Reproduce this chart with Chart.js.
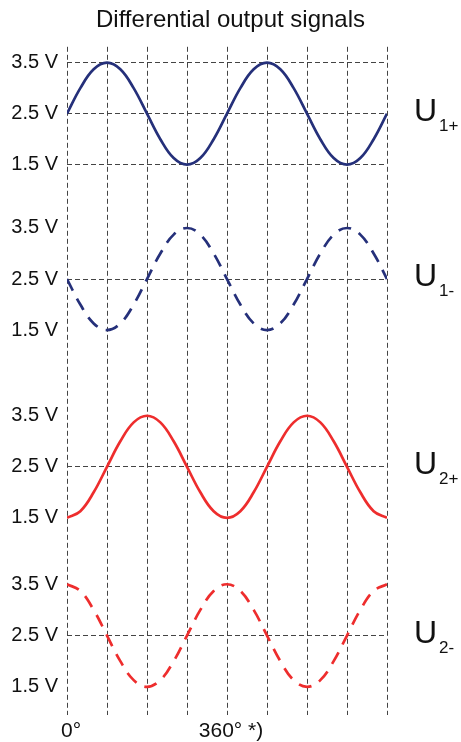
<!DOCTYPE html>
<html>
<head>
<meta charset="utf-8">
<script src="https://cdn.jsdelivr.net/npm/chart.js@4"></script>
<style>
  html, body { margin: 0; padding: 0; background: #fff; }
  #wrap { position: relative; width: 461px; height: 742px; }
</style>
</head>
<body>
<div id="wrap"><canvas id="signalChart"></canvas></div>
<script>
// Chart data
let degrees = [0, 30, 60, 90, 120, 150, 180, 210, 240, 270, 300, 330, 360,
  390, 420, 450, 480, 510, 540, 570, 600, 630, 660, 690, 720];
let u1Plus = [2.5, 3.0, 3.37, 3.5, 3.37, 3.0, 2.5, 2.0, 1.63, 1.5, 1.63, 2.0, 2.5,
  3.0, 3.37, 3.5, 3.37, 3.0, 2.5, 2.0, 1.63, 1.5, 1.63, 2.0, 2.5];
let u1Minus = [2.5, 2.0, 1.63, 1.5, 1.63, 2.0, 2.5, 3.0, 3.37, 3.5, 3.37, 3.0, 2.5,
  2.0, 1.63, 1.5, 1.63, 2.0, 2.5, 3.0, 3.37, 3.5, 3.37, 3.0, 2.5];
let u2Plus = [1.5, 1.63, 2.0, 2.5, 3.0, 3.37, 3.5, 3.37, 3.0, 2.5, 2.0, 1.63, 1.5,
  1.63, 2.0, 2.5, 3.0, 3.37, 3.5, 3.37, 3.0, 2.5, 2.0, 1.63, 1.5];
let u2Minus = [3.5, 3.37, 3.0, 2.5, 2.0, 1.63, 1.5, 1.63, 2.0, 2.5, 3.0, 3.37, 3.5,
  3.37, 3.0, 2.5, 2.0, 1.63, 1.5, 1.63, 2.0, 2.5, 3.0, 3.37, 3.5];
let voltTicks = [1.5, 2.5, 3.5];
let degreeLabels = { 0: "0°", 360: "360° *)" };
let signalNames = [["U", "1+"], ["U", "1-"], ["U", "2+"], ["U", "2-"]];

const navy = "#25307a";
const red = "#ee2d2d";
const gridColor = "#444";
const fontFamily = "'Liberation Sans', Arial, sans-serif";

function makePoints(values) {
  return values.map((v, i) => ({ x: degrees[i], y: v }));
}

function makeDataset(values, color, dashed, axisId) {
  return {
    data: makePoints(values),
    yAxisID: axisId,
    borderColor: color,
    borderWidth: 2.7,
    borderDash: dashed ? [13, 9] : [],
    pointRadius: 0,
    tension: 0.4,
    fill: false,
  };
}

// one stacked y axis per signal
function makeYAxis(min, max, weight, allLines) {
  return {
    type: "linear",
    position: "left",
    stack: "signals",
    stackWeight: weight,
    min: min,
    max: max,
    afterBuildTicks: (axis) => {
      axis.ticks = voltTicks.map((v) => ({ value: v }));
    },
    afterFit: (axis) => {
      axis.width = 67;
    },
    ticks: {
      color: "#111",
      padding: 9,
      font: { family: fontFamily, size: 20 },
      callback: (value) => value.toFixed(1) + " V",
    },
    grid: {
      drawTicks: false,
      lineWidth: 1,
      color: (ctx) =>
        allLines || (ctx.tick && ctx.tick.value === 2.5) ? gridColor : "rgba(0,0,0,0)",
    },
    border: { display: false, dash: [5, 3] },
  };
}

// labels U1+ ... on the right side
const signalLabels = {
  id: "signalLabels",
  afterDraw(chart) {
    const ctx = chart.ctx;
    const axes = ["y1", "y2", "y3", "y4"];
    ctx.save();
    ctx.fillStyle = "#111";
    ctx.textAlign = "left";
    ctx.textBaseline = "alphabetic";
    axes.forEach((id, i) => {
      const base = chart.scales[id].getPixelForValue(2.5) + 7;
      ctx.font = "32px " + fontFamily;
      ctx.fillText(signalNames[i][0], 414, base);
      const w = ctx.measureText(signalNames[i][0]).width;
      ctx.font = "17px " + fontFamily;
      ctx.fillText(signalNames[i][1], 414 + w + 2, base + 10);
    });
    ctx.restore();
  },
};

new Chart(document.getElementById("signalChart"), {
  type: "line",
  data: {
    datasets: [
      makeDataset(u1Plus, navy, false, "y1"),
      makeDataset(u1Minus, navy, true, "y2"),
      makeDataset(u2Plus, red, false, "y3"),
      makeDataset(u2Minus, red, true, "y4"),
    ],
  },
  options: {
    responsive: true,
    maintainAspectRatio: false,
    animation: false,
    layout: { padding: 0 },
    plugins: {
      legend: { display: false },
      tooltip: { enabled: false },
      title: {
        display: true,
        text: "Differential output signals",
        color: "#111",
        font: { family: fontFamily, size: 24, weight: "normal" },
        padding: { top: 6, bottom: 12 },
      },
    },
    scales: {
      x: {
        type: "linear",
        min: 0,
        max: 720,
        afterFit: (axis) => {
          axis.height = 27;
        },
        ticks: {
          stepSize: 90,
          color: "#111",
          padding: 4,
          labelOffset: 4,
          maxRotation: 0,
          autoSkip: false,
          font: { family: fontFamily, size: 21 },
          callback: (value) => degreeLabels[value] || "",
        },
        grid: { drawTicks: false, color: gridColor, lineWidth: 1 },
        border: { display: false, dash: [5, 3] },
      },
      y4: makeYAxis(0.95, 4.15, 164, false),
      y3: makeYAxis(0.85, 4.34, 178, false),
      y2: makeYAxis(0.66, 4.12, 176.5, false),
      y1: makeYAxis(0.88, 3.81, 149.5, true),
      // empty right-hand axis that keeps room for the signal names
      names: {
        type: "linear",
        position: "right",
        afterFit: (axis) => {
          axis.width = 74;
        },
        ticks: { display: false },
        grid: { display: false },
        border: { display: false },
      },
    },
  },
  plugins: [signalLabels],
});
</script>
</body>
</html>
